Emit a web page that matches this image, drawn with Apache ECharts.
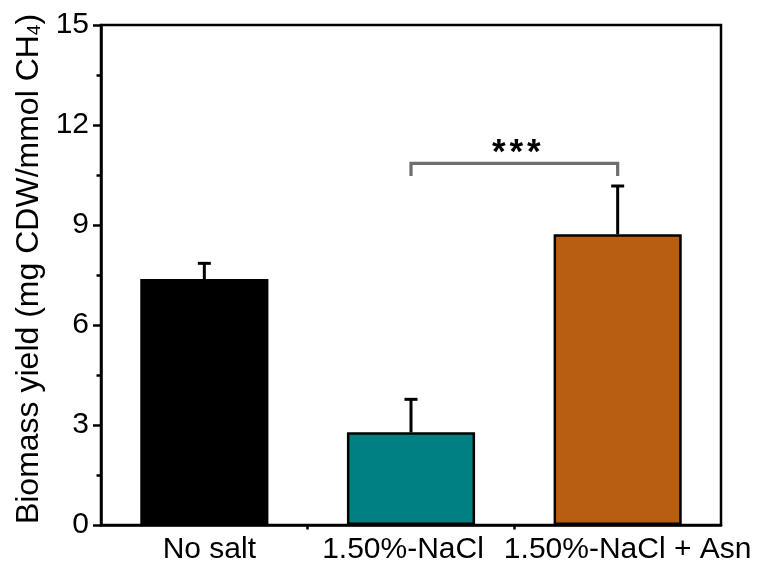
<!DOCTYPE html>
<html>
<head>
<meta charset="utf-8">
<script src="https://cdn.jsdelivr.net/npm/echarts@6/dist/echarts.min.js"></script>
<style>
  html, body { margin: 0; padding: 0; background: #fff; }
  #chart { width: 757px; height: 567px; }
</style>
</head>
<body>
<div id="chart"></div>
<script>
// Treatments and measured biomass yield (mean and standard deviation)
const categories = ['No salt', '1.50%-NaCl', '1.50%-NaCl + Asn'];
const means = [7.38, 2.78, 8.72];
const errors = [0.47, 0.99, 1.45];
const barColors = ['#000000', '#008080', '#B75E13'];

// Y-axis scale
const yMin = 0, yMax = 15, yStep = 3;

// Significance bracket between treatment 2 and treatment 3
const bracketFrom = 1, bracketTo = 2;
const bracketLevel = 10.85;
const bracketDrop = 0.38;
const bracketLabel = '***';

const FONT = '"Liberation Sans", Arial, Helvetica, sans-serif';

// horizontal nudges of the category labels (left / right padding, px)
const labelPads = [[10, 0], [0, 16], [20, 0]];

const chart = echarts.init(document.getElementById('chart'), null, { renderer: 'canvas' });

const labelRich = {};
labelPads.forEach((p, i) => {
  labelRich['c' + i] = { fontFamily: FONT, fontSize: 30, color: '#000', padding: [0, p[1], 0, p[0]] };
});

const option = {
  animation: false,
  backgroundColor: '#ffffff',
  grid: {
    left: 101, right: 36, top: 25, bottom: 42,
    show: true, borderColor: '#000', borderWidth: 2.5, backgroundColor: 'transparent'
  },
  xAxis: [
    {
      type: 'category',
      data: categories,
      boundaryGap: true,
      axisLine: { lineStyle: { color: '#000', width: 2.5 } },
      axisTick: { alignWithLabel: true, length: 8, lineStyle: { color: '#000', width: 2.5 } },
      axisLabel: {
        color: '#000', fontFamily: FONT, fontSize: 30, margin: 10, interval: 0,
        formatter: function (v, i) { return '{c' + i + '|' + v + '}'; },
        rich: labelRich
      },
      splitLine: { show: false }
    },
    {
      // minor ticks at category boundaries
      type: 'value',
      position: 'bottom',
      min: 0, max: categories.length,
      axisLine: { show: false },
      axisLabel: { show: false },
      splitLine: { show: false },
      axisTick: {
        show: true, length: 4.5,
        customValues: categories.slice(1).map((_, i) => i + 1),
        lineStyle: { color: '#000', width: 2.5 }
      }
    }
  ],
  yAxis: {
    type: 'value',
    min: yMin, max: yMax, interval: yStep,
    name: 'Biomass yield (mg CDW/mmol CH{sub|4})',
    nameLocation: 'middle',
    nameRotate: 90,
    nameGap: 54,
    nameTextStyle: {
      color: '#000', fontFamily: FONT, fontSize: 32,
      padding: [0, 0, 0, 12],
      rich: { sub: { fontFamily: FONT, fontSize: 19, color: '#000', verticalAlign: 'bottom' } }
    },
    axisLine: { show: true, lineStyle: { color: '#000', width: 2.5 } },
    axisTick: { length: 8, lineStyle: { color: '#000', width: 2.5 } },
    minorTick: { show: true, splitNumber: 2, length: 4.5, lineStyle: { color: '#000', width: 2.5 } },
    axisLabel: { color: '#000', fontFamily: FONT, fontSize: 30, margin: 12 },
    splitLine: { show: false },
    minorSplitLine: { show: false }
  },
  series: [
    {
      // upper error bars, drawn beneath the bars
      type: 'custom',
      xAxisIndex: 0, yAxisIndex: 0,
      z: 1,
      data: means.map((m, i) => [i, m, errors[i]]),
      renderItem: function (params, api) {
        const idx = api.value(0);
        const m = api.value(1);
        const e = api.value(2);
        const base = api.coord([idx, m]);
        const top = api.coord([idx, m + e]);
        const half = 6.5;
        const style = { stroke: '#000', lineWidth: 3 };
        return {
          type: 'group',
          children: [
            { type: 'line', shape: { x1: base[0], y1: base[1], x2: top[0], y2: top[1] }, style: style },
            { type: 'line', shape: { x1: top[0] - half, y1: top[1], x2: top[0] + half, y2: top[1] }, style: style }
          ]
        };
      }
    },
    {
      type: 'bar',
      xAxisIndex: 0, yAxisIndex: 0,
      z: 2,
      barWidth: '62%',
      data: means.map((m, i) => ({
        value: m,
        itemStyle: { color: barColors[i], borderColor: '#000', borderWidth: 2.5 }
      }))
    },
    {
      // significance bracket with its label
      type: 'custom',
      xAxisIndex: 0, yAxisIndex: 0,
      z: 3,
      data: [[bracketFrom, bracketTo, bracketLevel, bracketDrop]],
      renderItem: function (params, api) {
        const a = api.value(0), b = api.value(1), lvl = api.value(2), drop = api.value(3);
        const pA = api.coord([a, lvl]);
        const pB = api.coord([b, lvl]);
        const pA2 = api.coord([a, lvl - drop]);
        const pB2 = api.coord([b, lvl - drop]);
        const style = { stroke: '#6e6e6e', lineWidth: 3.2, fill: null, lineJoin: 'miter' };
        const children = [
          { type: 'polyline', shape: { points: [pA2, pA, pB, pB2] }, style: style }
        ];
        const chars = bracketLabel.split('');
        const cx = (pA[0] + pB[0]) / 2 + 2;
        const step = 17.5;
        chars.forEach((ch, k) => {
          children.push({
            type: 'text',
            x: cx + (k - (chars.length - 1) / 2) * step,
            y: pA[1] - 27,
            style: {
              text: ch,
              fill: '#000',
              font: 'bold 35px ' + FONT,
              align: 'center',
              verticalAlign: 'top'
            }
          });
        });
        return { type: 'group', children: children };
      }
    }
  ]
};

chart.setOption(option);
</script>
</body>
</html>
